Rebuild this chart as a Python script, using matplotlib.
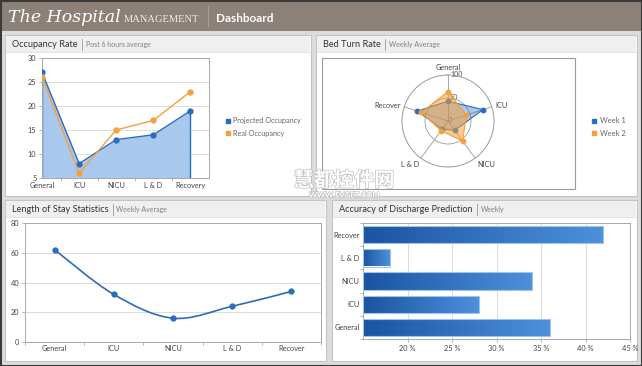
import numpy as np
import matplotlib
matplotlib.use("Agg")
import matplotlib.pyplot as plt
from matplotlib.patches import Rectangle, PathPatch
from matplotlib.path import Path
from matplotlib.lines import Line2D
from matplotlib.colors import LinearSegmentedColormap
import matplotlib.patheffects as pe

plt.rcParams['font.family'] = ['Lato', 'DejaVu Sans']

W, H = 642, 366

# --- data ---
occ_units = ['General', 'ICU', 'NICU', 'L & D', 'Recovery']
projected = [27, 8, 13, 14, 19]
real = [26, 6, 15, 17, 23]

radar_units = ['General', 'ICU', 'NICU', 'L & D', 'Recover']
week1 = [43, 80, 25, 22, 70]
week2 = [64, 42, 54, 26, 61]

stay_units = ['General', 'ICU', 'NICU', 'L & D', 'Recover']
stay = [62, 32, 16, 24, 34]

acc_units = ['General', 'ICU', 'NICU', 'L & D', 'Recover']
accuracy = [36, 28, 34, 18, 42]

BLUE = '#2a6cbd'
ORANGE = '#f5a03c'
GRID = '#d6d6d6'
SPINE = '#a8a8a8'
TXT = '#444444'


def box(x0, y0, x1, y1):
    return [x0 / W, 1 - y1 / H, (x1 - x0) / W, (y1 - y0) / H]


fig = plt.figure(figsize=(W / 100, H / 100), dpi=100)
fig.patch.set_facecolor('#dcdcdc')
renderer = fig.canvas.get_renderer()

bg = fig.add_axes([0, 0, 1, 1])
bg.set_xlim(0, W)
bg.set_ylim(H, 0)
bg.axis('off')


def right_edge(t):
    # x pixel where a text ends
    return t.get_window_extent(renderer).x1


# header
bg.add_patch(Rectangle((0, 0), W, 31, color='#8b8178', lw=0))
t = bg.text(8, 17, 'The Hospital', color='white', fontsize=12.5, style='italic',
            family='DejaVu Serif', va='center', ha='left')
t = bg.text(right_edge(t) + 3, 19, 'MANAGEMENT', color='#f0ece8', fontsize=7.6,
            family='Liberation Serif', va='center', ha='left')
sep = right_edge(t) + 9
bg.plot([sep, sep], [6, 26], color='#a89f97', lw=0.8)
bg.text(sep + 8, 19, 'Dashboard', color='white', fontsize=8.5, weight='bold',
        va='center', ha='left')

panels = [
    (5, 35, 311, 196, 'Occupancy Rate', 'Post 6 hours average'),
    (316, 35, 637, 196, 'Bed Turn Rate', 'Weekly Average'),
    (5, 200, 326, 361, 'Length of Stay Statistics', 'Weekly Average'),
    (332, 200, 637, 361, 'Accuracy of Discharge Prediction', 'Weekly'),
]
for x0, y0, x1, y1, title, sub in panels:
    bg.add_patch(Rectangle((x0, y0), x1 - x0, y1 - y0, facecolor='white',
                           edgecolor='#c4c4c4', lw=0.8))
    bg.add_patch(Rectangle((x0 + 1, y0 + 1), x1 - x0 - 2, 16, facecolor='#efefef',
                           lw=0))
    bg.plot([x0 + 1, x1 - 1], [y0 + 17, y0 + 17], color='#e0e0e0', lw=0.6)
    t = bg.text(x0 + 7, y0 + 9.5, title, fontsize=6.6, color='#333333',
                va='center', ha='left')
    sep = right_edge(t) + 4
    bg.plot([sep, sep], [y0 + 4, y0 + 15], color='#999999', lw=0.6)
    bg.text(sep + 4, y0 + 9.5, sub, fontsize=5, color='#808080',
            va='center', ha='left')

# watermark
wm = [pe.withStroke(linewidth=0.9, foreground='#bdbdbd')]
bg.text(344, 180, '慧都控件网', fontsize=14.5, color='white', weight='bold',
        family=['Noto Sans CJK SC', 'DejaVu Sans'], ha='center', va='center',
        path_effects=wm, zorder=20)
bg.text(344, 195, 'WWW.EVGET.COM', fontsize=5.5, color='white', weight='bold',
        ha='center', va='center', path_effects=wm, zorder=20)


def style(ax):
    for s in ax.spines.values():
        s.set_color(SPINE)
        s.set_linewidth(0.7)
    ax.tick_params(colors=SPINE, labelcolor=TXT, labelsize=5.3, length=2.5,
                   width=0.6, pad=1.5)
    ax.tick_params(which='minor', length=0, labelsize=5.3, labelcolor=TXT, pad=2.5)


# --- occupancy rate ---
ax1 = fig.add_axes(box(42, 58, 209, 178))
x = np.arange(len(occ_units))
ax1.fill_between(x, projected, 5, color='#a9c8ee', lw=0, zorder=1)
ax1.plot([x[0], x[0]], [5, projected[0]], color=BLUE, lw=1.0, zorder=2)
ax1.plot([x[-1], x[-1]], [5, projected[-1]], color=BLUE, lw=1.0, zorder=2)
ax1.plot(x, projected, color=BLUE, lw=1.0, marker='o', ms=3.5, zorder=3)
ax1.plot(x, real, color=ORANGE, lw=1.0, marker='o', ms=3.5, zorder=4)
ax1.set_xlim(0, 4.5)
ax1.set_ylim(5, 30)
ax1.set_yticks([5, 10, 15, 20, 25, 30])
ax1.set_xticks(np.arange(0.5, 4.5, 1))
ax1.set_xticklabels([])
ax1.set_xticks(x, occ_units, minor=True)
ax1.grid(axis='y', color=GRID, lw=0.6)
ax1.set_axisbelow(True)
style(ax1)
ax1.tick_params(axis='x', which='minor', pad=3)
fig.legend(handles=[Line2D([], [], ls='none', marker='s', ms=3.5, color=BLUE),
                    Line2D([], [], ls='none', marker='s', ms=3.5, color=ORANGE)],
           labels=['Projected Occupancy', 'Real Occupancy'],
           loc='center left', bbox_to_anchor=(217 / W, 1 - 127 / H),
           frameon=False, fontsize=5.2, handletextpad=0.1, labelspacing=0.8,
           handlelength=1.2, labelcolor='#666666')

# --- bed turn rate (radar) ---
bg.add_patch(Rectangle((322, 58), 575 - 322, 189 - 58, facecolor='none',
                       edgecolor='#9a9a9a', lw=0.8))
ax2 = fig.add_axes(box(402, 75, 494, 167), projection='polar')
ax2.set_theta_offset(np.pi / 2)
ax2.set_theta_direction(-1)
ang = np.arange(len(radar_units)) * 2 * np.pi / len(radar_units)
angc = np.append(ang, ang[0])
w1 = np.append(week1, week1[0])
w2 = np.append(week2, week2[0])
ax2.fill(angc, w1, color=BLUE, alpha=0.38, lw=0, zorder=2)
ax2.plot(angc, w1, color=BLUE, lw=0.8, zorder=3)
ax2.plot(ang, week1, 'o', color=BLUE, ms=3.2, zorder=3)
ax2.fill(angc, w2, color=ORANGE, alpha=0.55, lw=0, zorder=4)
ax2.plot(angc, w2, color=ORANGE, lw=0.8, zorder=5)
ax2.plot(ang, week2, 'o', color=ORANGE, ms=3.2, zorder=5)
ax2.set_ylim(0, 100)
ax2.set_yticks([50])
ax2.set_yticklabels([])
ax2.set_xticks(ang)
ax2.set_xticklabels([])
ax2.grid(color='#9a9a9a', lw=0.6)
ax2.spines['polar'].set_color('#9a9a9a')
ax2.spines['polar'].set_linewidth(0.7)
ax2.set_facecolor('none')
for r in (0, 50, 100):
    ax2.text(0.06, r + 2, str(r), fontsize=5, color='#555555', ha='left',
             va='center', zorder=1)
aligns = [('center', 'bottom'), ('left', 'center'), ('left', 'top'),
          ('right', 'top'), ('right', 'center')]
for a, lab, (ha, va) in zip(ang, radar_units, aligns):
    ax2.text(a, 108, lab, fontsize=5.3, color=TXT, ha=ha, va=va)
fig.legend(handles=[Line2D([], [], ls='none', marker='s', ms=3.5, color=BLUE),
                    Line2D([], [], ls='none', marker='s', ms=3.5, color=ORANGE)],
           labels=['Week 1', 'Week 2'],
           loc='center left', bbox_to_anchor=(583 / W, 1 - 127 / H),
           frameon=False, fontsize=5.4, handletextpad=0.1, labelspacing=0.7,
           handlelength=1.2, labelcolor='#666666')

# --- length of stay ---
ax3 = fig.add_axes(box(25, 223, 321, 342))
xs = np.arange(len(stay_units), dtype=float)
ys = np.array(stay, dtype=float)
px_ = np.concatenate([[xs[0]], xs, [xs[-1]]])
py_ = np.concatenate([[ys[0]], ys, [ys[-1]]])
verts = [(xs[0], ys[0])]
codes = [Path.MOVETO]
for i in range(len(xs) - 1):
    c1 = (xs[i] + (px_[i + 2] - px_[i]) / 6, ys[i] + (py_[i + 2] - py_[i]) / 6)
    c2 = (xs[i + 1] - (px_[i + 3] - px_[i + 1]) / 6,
          ys[i + 1] - (py_[i + 3] - py_[i + 1]) / 6)
    verts += [c1, c2, (xs[i + 1], ys[i + 1])]
    codes += [Path.CURVE4] * 3
ax3.add_patch(PathPatch(Path(verts, codes), facecolor='none', edgecolor=BLUE,
                        lw=1.2, zorder=3))
ax3.plot(xs, ys, 'o', color=BLUE, ms=3.5, zorder=4)
ax3.set_xlim(-0.5, 4.5)
ax3.set_ylim(0, 80)
ax3.set_yticks([0, 20, 40, 60, 80])
ax3.set_xticks(np.arange(-0.5, 4.6, 1))
ax3.set_xticklabels([])
ax3.set_xticks(xs, stay_units, minor=True)
ax3.grid(axis='y', color=GRID, lw=0.6)
ax3.set_axisbelow(True)
style(ax3)

# --- accuracy of discharge prediction ---
ax4 = fig.add_axes(box(363, 223, 630, 339))
yb = np.arange(len(acc_units))
bars = ax4.barh(yb, [v - 15 for v in accuracy], left=15, height=0.75,
                color='none', edgecolor='#9cc4ee', lw=0.8, zorder=3)
cmap = LinearSegmentedColormap.from_list('bar', ['#1b54a0', '#4d90dc'])
grad = np.linspace(0, 1, 256).reshape(1, -1)
for b, v, yy in zip(bars, accuracy, yb):
    im = ax4.imshow(grad, extent=[15, v, yy - 0.375, yy + 0.375], cmap=cmap,
                    aspect='auto', zorder=2, interpolation='bicubic')
    im.set_clip_path(b)
ax4.set_xlim(15, 45)
ax4.set_ylim(-0.5, 4.5)
ax4.set_aspect('auto')
ax4.set_xticks([20, 25, 30, 35, 40, 45], ['20 %', '25 %', '30 %', '35 %', '40 %', '45 %'])
ax4.set_yticks(np.arange(-0.5, 4.6, 1))
ax4.set_yticklabels([])
ax4.set_yticks(yb, acc_units, minor=True)
ax4.grid(axis='x', color=GRID, lw=0.6)
ax4.set_axisbelow(True)
style(ax4)

# outer border
bg.add_patch(Rectangle((0.5, 0.5), W - 1, H - 1, facecolor='none',
                       edgecolor='#3a3a3a', lw=1.5, zorder=30))

fig.savefig('out.png', dpi=100, facecolor=fig.get_facecolor())
